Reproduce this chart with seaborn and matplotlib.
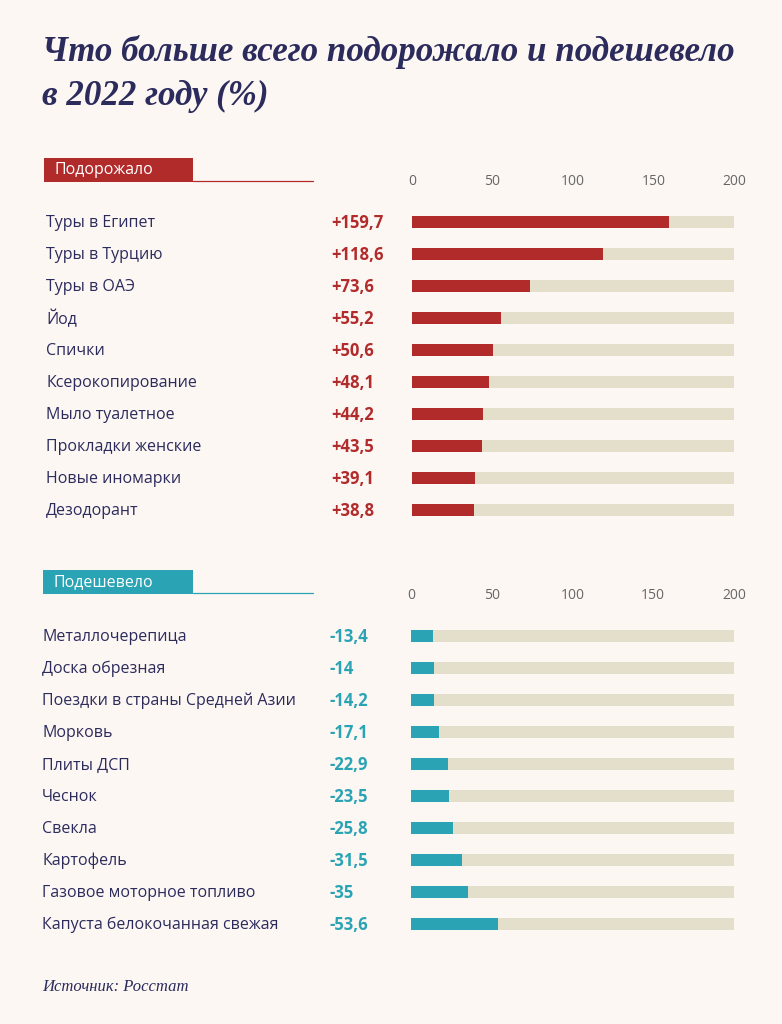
import matplotlib
matplotlib.use("Agg")
import matplotlib.pyplot as plt
import matplotlib.transforms as mtransforms
from matplotlib.patches import Rectangle
import seaborn as sns
import pandas as pd

# ---- data ----
up_labels = ["Туры в Египет", "Туры в Турцию", "Туры в ОАЭ", "Йод", "Спички",
             "Ксерокопирование", "Мыло туалетное", "Прокладки женские",
             "Новые иномарки", "Дезодорант"]
up_values = [159.7, 118.6, 73.6, 55.2, 50.6, 48.1, 44.2, 43.5, 39.1, 38.8]
up_texts = ["+159,7", "+118,6", "+73,6", "+55,2", "+50,6", "+48,1", "+44,2",
            "+43,5", "+39,1", "+38,8"]

down_labels = ["Металлочерепица", "Доска обрезная", "Поездки в страны Средней Азии",
               "Морковь", "Плиты ДСП", "Чеснок", "Свекла", "Картофель",
               "Газовое моторное топливо", "Капуста белокочанная свежая"]
down_values = [-13.4, -14.0, -14.2, -17.1, -22.9, -23.5, -25.8, -31.5, -35.0, -53.6]
down_texts = ["-13,4", "-14", "-14,2", "-17,1", "-22,9", "-23,5", "-25,8",
              "-31,5", "-35", "-53,6"]

ticks = [0, 50, 100, 150, 200]
scale_max = 200

title = "Что больше всего подорожало и подешевело\nв 2022 году (%)"
source = "Источник: Росстат"

# ---- style ----
RED = "#b22b2b"
TEAL = "#2aa4b4"
TRACK = "#e3dfcb"
NAVY = "#2b2b5c"
BG = "#fdf7f4"
W, H = 782, 1024

sns.set_theme(style="white")
plt.rcParams["font.family"] = ["Open Sans", "DejaVu Sans"]

fig = plt.figure(figsize=(W / 100, H / 100), dpi=100, facecolor=BG)


def fx(px):
    return px / W


def fy(py):
    return 1 - py / H


def panel(top_px, bottom_px, x0_px, x1_px, labels, values, texts, color,
          label_x, value_x):
    ax = fig.add_axes([fx(x0_px), fy(bottom_px), fx(x1_px - x0_px),
                       (bottom_px - top_px) / H])
    ax.set_facecolor("none")
    df = pd.DataFrame({"label": labels, "value": [abs(v) for v in values],
                       "track": [scale_max] * len(labels)})
    sns.barplot(data=df, y="label", x="track", color=TRACK, orient="h",
                width=0.38, ax=ax, saturation=1, linewidth=0)
    sns.barplot(data=df, y="label", x="value", color=color, orient="h",
                width=0.38, ax=ax, saturation=1, linewidth=0)
    ax.set_xlim(0, scale_max)
    ax.set_ylim(len(labels) - 0.5, -0.5)
    ax.set_xlabel("")
    ax.set_ylabel("")
    ax.set_yticks([])
    ax.set_xticks(ticks)
    ax.set_xticklabels([str(t) for t in ticks])
    ax.xaxis.tick_top()
    ax.tick_params(axis="x", length=0, pad=12.5, labelsize=10, labelcolor="#666666")
    for s in ax.spines.values():
        s.set_visible(False)
    trans = mtransforms.blended_transform_factory(fig.transFigure, ax.transData)
    for i, (lab, txt) in enumerate(zip(labels, texts)):
        ax.text(fx(label_x), i + 0.03, lab, transform=trans, ha="left", va="center",
                fontsize=11.5, color=NAVY)
        ax.text(fx(value_x), i + 0.03, txt, transform=trans, ha="left", va="center",
                fontsize=12, color=color, fontweight="bold")
    return ax


panel(206, 526, 412, 734, up_labels, up_values, up_texts, RED, 46, 331)
panel(620, 940, 411, 734, down_labels, down_values, down_texts, TEAL, 42, 329)


def header(text, y_top, y_bot, color, x0):
    fig.patches.append(Rectangle((fx(x0), fy(y_bot)), fx(193 - x0),
                                 (y_bot - y_top) / H, transform=fig.transFigure,
                                 facecolor=color, edgecolor="none"))
    fig.add_artist(plt.Line2D([fx(193), fx(313)], [fy(y_bot - 1), fy(y_bot - 1)],
                              transform=fig.transFigure, color=color, lw=0.9))
    fig.text(fx(x0 + 11), fy((y_top + y_bot) / 2), text, ha="left", va="center",
             fontsize=11.5, color="white")


header("Подорожало", 158, 182, RED, 44)
header("Подешевело", 570, 594, TEAL, 43)

fig.text(fx(42), fy(74), title, ha="left", va="center", fontsize=25.2,
         family=["Liberation Serif", "DejaVu Serif"], fontweight="bold",
         fontstyle="italic", color=NAVY, linespacing=1.4)
fig.text(fx(42), fy(987), source, ha="left", va="center", fontsize=12,
         family=["Liberation Serif", "DejaVu Serif"], fontstyle="italic",
         color=NAVY)

fig.savefig("out.png", dpi=100, facecolor=BG)
